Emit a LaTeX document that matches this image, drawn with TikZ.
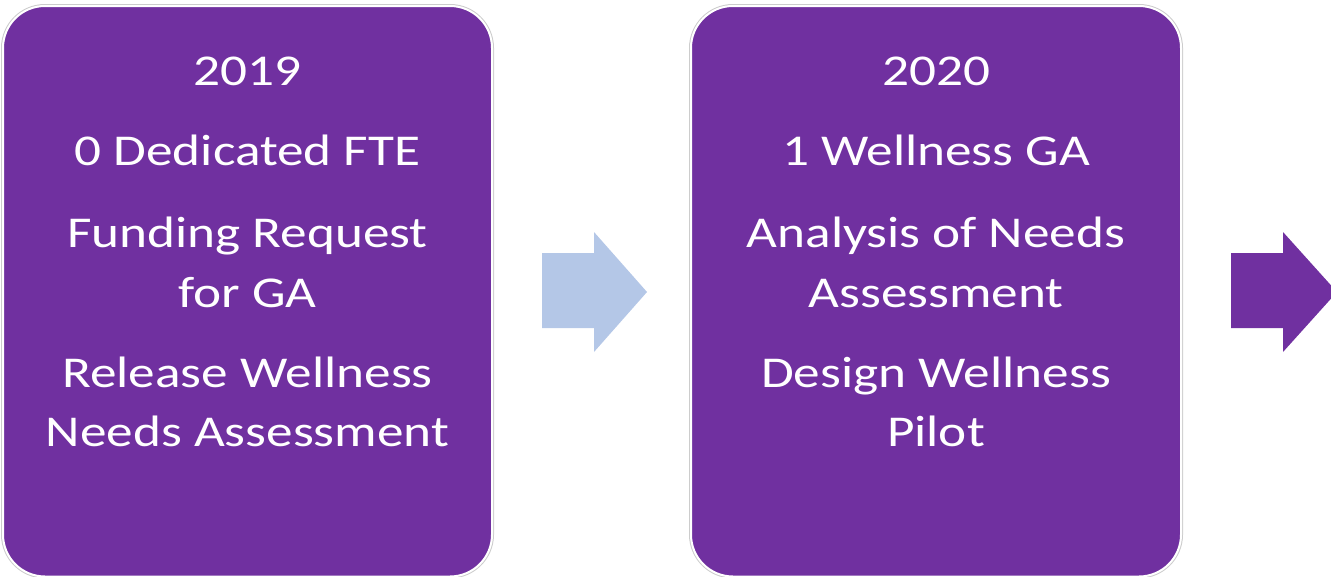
\documentclass[tikz,border=0pt]{standalone}
\usepackage{graphicx}
\usepackage{fontspec}
\setmainfont{Carlito}
\definecolor{boxpurple}{HTML}{7030A0}
\definecolor{arrowblue}{HTML}{B4C7E7}
\newcommand\widetext[1]{\scalebox{1.21}[1]{#1}}
\begin{document}
\begin{tikzpicture}[x=1pt,y=-1pt,
  yearbox/.style={draw=white, line width=2pt, fill=boxpurple, rounded corners=42pt,
    preaction={draw=gray!40, line width=4pt, rounded corners=42pt}},
  txt/.style={text=white, anchor=base, inner sep=0pt, font=\fontsize{44}{52}\selectfont}]
\useasboundingbox (0,0) rectangle (1331,576);
% boxes
\draw[yearbox] (3,6) rectangle (492,576.5);
\draw[yearbox] (691,6) rectangle (1181,576.5);
% texts box A
\node[txt] (a1) at (247.5,85) {\widetext{2019}};
\node[txt] (a2) at (247.5,165) {\widetext{0 Dedicated FTE}};
\node[txt] (a3) at (247.5,247) {\widetext{Funding Request}};
\node[txt] (a4) at (247.5,307) {\widetext{for GA}};
\node[txt] (a5) at (247.5,387) {\widetext{Release Wellness}};
\node[txt] (a6) at (247.5,446) {\widetext{Needs Assessment}};
% texts box B
\node[txt] (b1) at (936,85) {\widetext{2020}};
\node[txt] (b2) at (936,165) {\widetext{1 Wellness GA}};
\node[txt] (b3) at (936,247) {\widetext{Analysis of Needs}};
\node[txt] (b4) at (936,307) {\widetext{Assessment}};
\node[txt] (b5) at (936,387) {\widetext{Design Wellness}};
\node[txt] (b6) at (936,446) {\widetext{Pilot}};
% block arrows
\fill[arrowblue] (542,253) -- (594,253) -- (594,232) -- (647,292) -- (594,352) -- (594,328) -- (542,328) -- cycle;
\fill[boxpurple] (1231,253) -- (1283,253) -- (1283,232) -- (1337,292) -- (1283,352) -- (1283,328) -- (1231,328) -- cycle;
\end{tikzpicture}
\end{document}
